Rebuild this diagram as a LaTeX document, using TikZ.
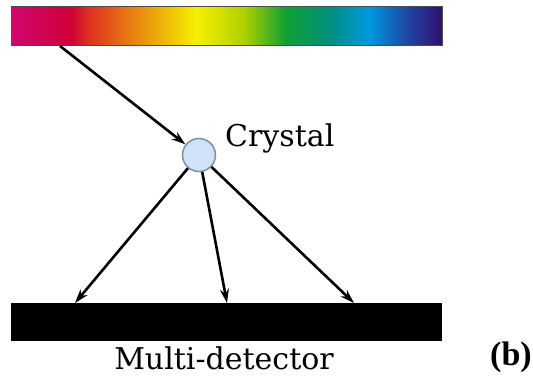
\documentclass[tikz,border=0pt]{standalone}
\usepackage{fontspec}
\setmainfont{Liberation Serif}
\newfontfamily\labelfont{DejaVu Serif}
\usetikzlibrary{arrows.meta}
\definecolor{cA}{HTML}{D0086E}
\definecolor{cB}{HTML}{D00038}
\definecolor{cC}{HTML}{E03020}
\definecolor{cD}{HTML}{E88010}
\definecolor{cE}{HTML}{F5F000}
\definecolor{cF}{HTML}{B0D000}
\definecolor{cG}{HTML}{10A030}
\definecolor{cH}{HTML}{009080}
\definecolor{cI}{HTML}{0098E0}
\definecolor{cJ}{HTML}{2040A0}
\definecolor{cK}{HTML}{301070}
\definecolor{xtal}{HTML}{CFE2F7}
\definecolor{xtalb}{HTML}{8090A0}
\pgfdeclarehorizontalshading{spectrum}{100bp}{
 color(0bp)=(cA); color(25bp)=(cA); color(31.85bp)=(cB); color(34bp)=(cC);
 color(39bp)=(cD); color(46.5bp)=(cE); color(52bp)=(cF); color(56.75bp)=(cG);
 color(62bp)=(cH); color(66.5bp)=(cI); color(71.25bp)=(cJ); color(75bp)=(cK);
 color(100bp)=(cK)}
\begin{document}
\begin{tikzpicture}[x=1pt,y=-1pt,
  ray/.style={line width=2.6pt,-{Stealth[length=14pt,width=9pt]}},
  lbl/.style={font=\labelfont\fontsize{30}{32}\selectfont,inner sep=0pt}]
\useasboundingbox (0,0) rectangle (533,391);
\node[draw=black!70,line width=0.6pt,shading=spectrum,minimum width=431pt,minimum height=39pt,anchor=north west,inner sep=0pt] (spec) at (11,6) {};
\node[fill=black,minimum width=431pt,minimum height=38pt,anchor=north west,inner sep=0pt] (det) at (11,303) {};
\node[circle,fill=xtal,draw=xtalb,line width=1.5pt,minimum size=33pt,inner sep=0pt] (xtal) at (199,155) {};
\node[lbl,anchor=west] (xl) at (225,138) {Crystal};
\node[lbl,anchor=center] (dl) at (224,358) {Multi-detector};
\node[font=\bfseries\fontsize{34}{36}\selectfont,inner sep=0pt] (b) at (511,357) {(b)};
\coordinate (s0) at (60,46);
\coordinate (d1) at (75,303);
\coordinate (d2) at (227,303);
\coordinate (d3) at (354,303);
\draw[ray] (s0) -- (xtal);
\draw[ray] (xtal) -- (d1);
\draw[ray] (xtal) -- (d2);
\draw[ray] (xtal) -- (d3);
\end{tikzpicture}
\end{document}
